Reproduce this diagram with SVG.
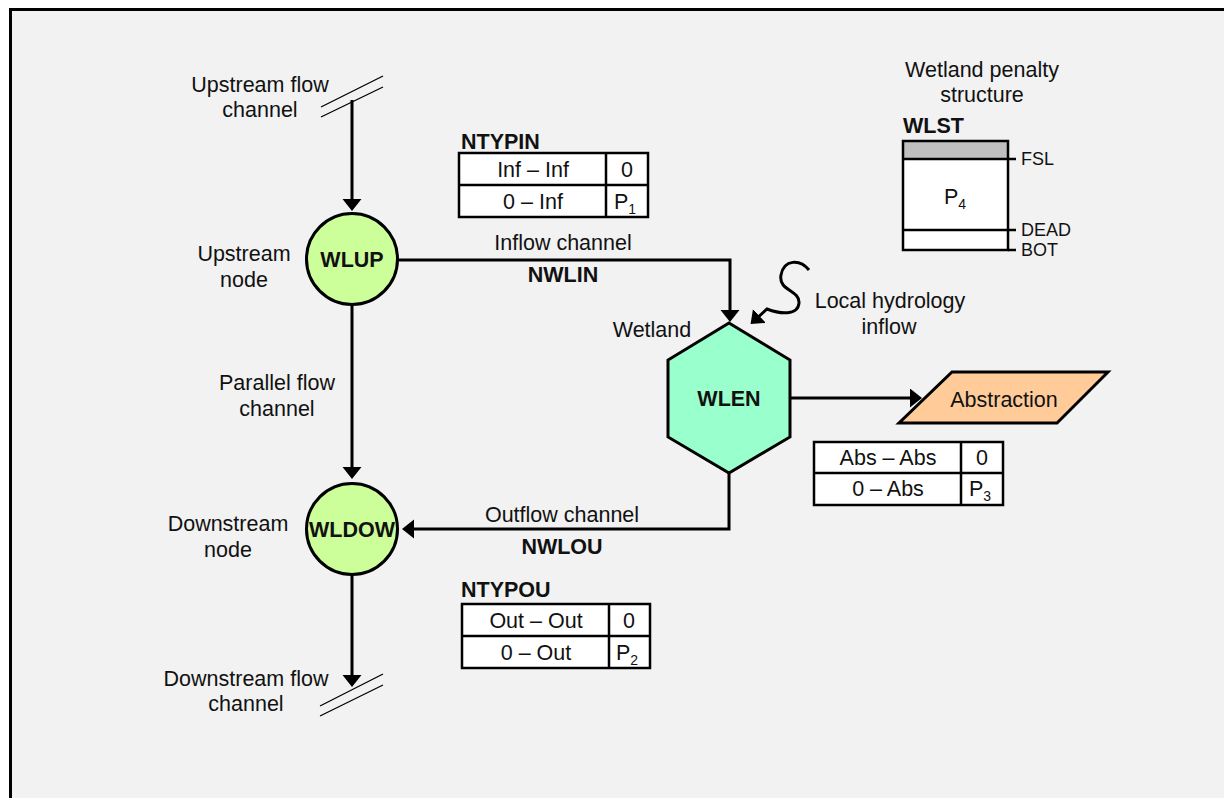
<svg xmlns="http://www.w3.org/2000/svg" width="1224" height="798" viewBox="0 0 1224 798">
<style>
text{font-family:"Liberation Sans",Arial,Helvetica,sans-serif;font-size:21.5px;fill:#111}
.b{font-weight:bold}
.m{text-anchor:middle}
.s{font-size:18px}
.sub{font-size:14px}
.ln{fill:none;stroke:#000;stroke-width:3}
.tb{fill:#fff;stroke:#000;stroke-width:2.5}
.hs{stroke:#000;stroke-width:1.3;fill:none}
</style>
<defs>
<marker id="arr" markerWidth="13" markerHeight="20" refX="6" refY="9.5" orient="auto" markerUnits="userSpaceOnUse"><path d="M0,0 L12,9.5 L0,19 z" fill="#000"/></marker>
</defs>
<rect x="0" y="0" width="1224" height="798" fill="#fff"/>
<rect x="10.5" y="9.5" width="1400" height="1000" fill="#f2f2f2" stroke="#000" stroke-width="3"/>

<g id="connectors">
<path class="ln" d="M352,100 V205" marker-end="url(#arr)"/>
<path class="ln" d="M352,306 V473" marker-end="url(#arr)"/>
<path class="ln" d="M352,576 V681" marker-end="url(#arr)"/>
<path class="ln" d="M398,260 H730 V316" marker-end="url(#arr)"/>
<path class="ln" d="M729,473 V529 H408" marker-end="url(#arr)"/>
<path class="ln" d="M790,398 H916" marker-end="url(#arr)"/>
<path class="ln" d="M809,270 C800,259 784,259 781,275 C778,291 800,290 799,303 C798,316 780,314 767,309 L755,320" marker-end="url(#arr)"/>
<path class="hs" d="M321,107 L383,76 M321,117 L383,87"/>
<path class="hs" d="M320,706 L383,674 M320,716 L383,685"/>
</g>

<g id="WLUP">
<circle cx="352" cy="259" r="45.5" fill="#ccff99" stroke="#000" stroke-width="3"/>
<text class="b m" x="352" y="267">WLUP</text>
</g>
<g id="WLDOW">
<circle cx="352" cy="529" r="45.5" fill="#ccff99" stroke="#000" stroke-width="3"/>
<text class="b m" x="352" y="537">WLDOW</text>
</g>
<g id="WLEN">
<polygon points="729,323 790,360 790,437 729,473 668,437 668,360" fill="#99ffcc" stroke="#000" stroke-width="3"/>
<text class="b m" x="729" y="406">WLEN</text>
</g>
<g id="Abstraction">
<polygon points="952,372 1108,372 1057,423 899,423" fill="#ffcc99" stroke="#000" stroke-width="3"/>
<text class="m" x="1004" y="407">Abstraction</text>
</g>

<g id="labels">
<text class="m" x="260" y="92">Upstream flow</text>
<text class="m" x="260" y="117">channel</text>
<text class="m" x="244" y="261">Upstream</text>
<text class="m" x="244" y="287">node</text>
<text class="m" x="277" y="390">Parallel flow</text>
<text class="m" x="277" y="416">channel</text>
<text class="m" x="228" y="531">Downstream</text>
<text class="m" x="228" y="557">node</text>
<text class="m" x="246" y="686">Downstream flow</text>
<text class="m" x="246" y="711">channel</text>
<text class="m" x="563" y="250">Inflow channel</text>
<text class="b m" x="563" y="282">NWLIN</text>
<text class="m" x="562" y="522">Outflow channel</text>
<text class="b m" x="562" y="554">NWLOU</text>
<text class="m" x="652" y="337">Wetland</text>
<text class="m" x="890" y="308">Local hydrology</text>
<text class="m" x="889" y="334">inflow</text>
</g>

<g id="NTYPIN">
<text class="b" x="461" y="149">NTYPIN</text>
<rect class="tb" x="459" y="153" width="189" height="64"/>
<path d="M459,185 H648 M606,153 V217" stroke="#000" stroke-width="2.5"/>
<text class="m" x="533" y="177">Inf – Inf</text>
<text class="m" x="627" y="177">0</text>
<text class="m" x="533" y="209">0 – Inf</text>
<text x="614" y="209">P<tspan class="sub" dy="5">1</tspan></text>
</g>

<g id="NTYPOU">
<text class="b" x="461" y="597">NTYPOU</text>
<rect class="tb" x="462" y="604" width="188" height="64"/>
<path d="M462,636 H650 M609,604 V668" stroke="#000" stroke-width="2.5"/>
<text class="m" x="536" y="628">Out – Out</text>
<text class="m" x="629" y="628">0</text>
<text class="m" x="536" y="660">0 – Out</text>
<text x="616" y="660">P<tspan class="sub" dy="5">2</tspan></text>
</g>

<g id="AbsTable">
<rect class="tb" x="814" y="442" width="189" height="63"/>
<path d="M814,473 H1003 M961,442 V505" stroke="#000" stroke-width="2.5"/>
<text class="m" x="888" y="465">Abs – Abs</text>
<text class="m" x="982" y="465">0</text>
<text class="m" x="888" y="496">0 – Abs</text>
<text x="969" y="496">P<tspan class="sub" dy="5">3</tspan></text>
</g>

<g id="WLST">
<text class="m" x="982" y="77">Wetland penalty</text>
<text class="m" x="982" y="102">structure</text>
<text class="b" x="903" y="133">WLST</text>
<rect x="903" y="141" width="105" height="109" fill="#fff"/>
<rect x="903" y="141" width="105" height="18" fill="#bfbfbf"/>
<rect x="903" y="141" width="105" height="109" fill="none" stroke="#000" stroke-width="2.5"/>
<path d="M903,159 H1016 M903,230 H1016 M1008,250 H1016" stroke="#000" stroke-width="2.5"/>
<text x="944" y="204">P<tspan class="sub" dy="5">4</tspan></text>
<text class="s" x="1021" y="165">FSL</text>
<text class="s" x="1021" y="236">DEAD</text>
<text class="s" x="1021" y="256">BOT</text>
</g>
</svg>
